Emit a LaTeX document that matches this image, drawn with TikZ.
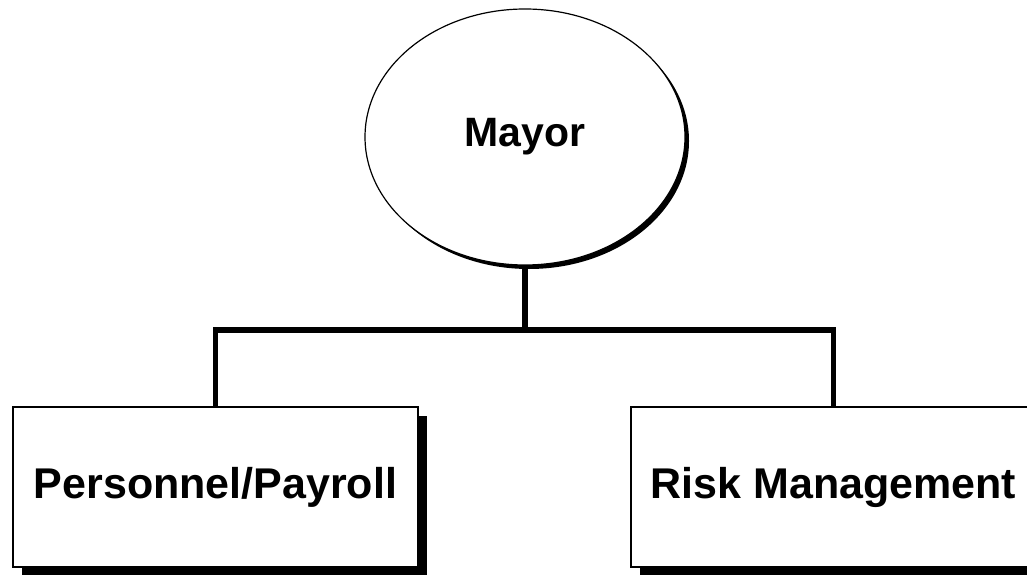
\documentclass[tikz,border=0pt]{standalone}
\usepackage{fontspec}
\setmainfont{Liberation Sans}
\usetikzlibrary{shapes,shadows}
\tikzstyle{unit} = [rectangle,draw,fill=white,line width=1.5pt,minimum width=405pt,minimum height=160pt,inner sep=0pt,font=\bfseries\fontsize{43}{50}\selectfont,drop shadow={shadow xshift=9pt,shadow yshift=-9pt,fill=black,opacity=1}]

\begin{document}
\begin{tikzpicture}
		[
		x=1pt,y=1pt,
		head/.style={
		draw,
		ellipse,
		fill=white,
		line width=1.2pt,
		minimum width=320pt,
		minimum height=256pt,
		inner sep=0pt,
		font=\bfseries\fontsize{41}{48}\selectfont,
		drop shadow={shadow xshift=4pt,shadow yshift=-4pt,fill=black,opacity=1}},
		link/.style={line width=5.5pt,line join=miter}
		]
		\useasboundingbox (0,0) rectangle (1027,574);
		\node[head](mayor) at (525,437) {Mayor};
		\node[unit](personnel) at (215.5,87) {Personnel/Payroll};
		\node[unit](risk) at (833.5,87) {Risk Management};
		\coordinate (bus) at (525,244);
		\draw[link] (mayor.south) -- (bus);
		\draw[link] (personnel.north) |- (bus) -| (risk.north);
		\end{tikzpicture}
\end{document}
